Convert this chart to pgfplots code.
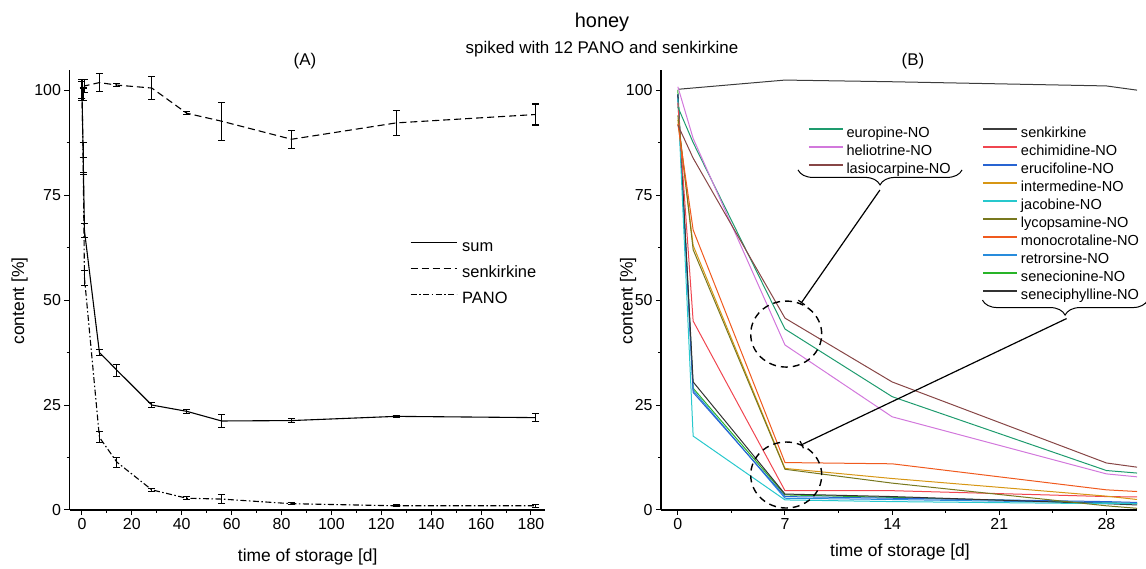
\documentclass[border=0pt]{standalone}
\usepackage{fontspec}
\setmainfont{Liberation Sans}
\usepackage{pgfplots}
\pgfplotsset{compat=1.18}
\usetikzlibrary{decorations.pathreplacing,arrows.meta}
\newcommand\fs[1]{\fontsize{#1}{#1}\selectfont}
\definecolor{cEur}{RGB}{30,155,110}
\definecolor{cHel}{RGB}{210,120,220}
\definecolor{cLas}{RGB}{135,70,70}
\definecolor{cSen}{RGB}{60,60,60}
\definecolor{cEch}{RGB}{240,70,80}
\definecolor{cEru}{RGB}{40,100,210}
\definecolor{cInt}{RGB}{215,150,20}
\definecolor{cJac}{RGB}{40,200,205}
\definecolor{cLyc}{RGB}{120,120,30}
\definecolor{cMon}{RGB}{240,90,30}
\definecolor{cRet}{RGB}{40,140,220}
\definecolor{cSec}{RGB}{40,180,40}
\definecolor{cSep}{RGB}{50,50,50}
\pgfplotsset{
  common/.style={
    scale only axis, ymin=0, ymax=104.8,
    axis x line*=bottom, axis y line*=left,
    axis line style={-, line width=1.2bp},
    tick align=outside, major tick length=5bp, minor tick length=3bp,
    every tick/.style={black, line width=1bp},
    ytick={0,25,50,75,100}, minor y tick num=1,
    ticklabel style={font=\fs{16}},
    /pgf/number format/assume math mode=true,
    label style={font=\fs{17.5}},
    legend cell align=left,
  },
  ebar/.style={error bars/.cd, y dir=both, y explicit,
    error bar style={line width=1.1bp, solid, black},
    error mark options={rotate=90, mark size=3.5bp, line width=1.1bp, solid, black}},
}
\begin{document}
\begin{tikzpicture}[x=1bp,y=1bp]
\path[use as bounding box] (0,0) rectangle (1146,569);
\node[font=\fs{20}, anchor=base] at (602,541) {honey};
\node[font=\fs{17}, anchor=base] at (602,515) {spiked with 12 PANO and senkirkine};
\node[font=\fs{17}, anchor=base] at (305,503) {(A)};
\node[font=\fs{17}, anchor=base] at (913,503) {(B)};
% ---------------- Panel A
\begin{axis}[common,
  at={(69.5bp,59bp)}, anchor=south west, width=475.4bp, height=440bp,
  xmin=-5, xmax=185.6, xtick={0,20,...,180}, minor x tick num=1,
  xlabel={time of storage [d]}, ylabel={content [\%]},
  xlabel style={at={(axis description cs:0.501,-0.107)}, anchor=center},
  ylabel style={at={(axis description cs:-0.105,0.475)}, anchor=center},
  legend style={at={(axis description cs:0.716,0.616)}, anchor=north west,
    draw=none, fill=none, font=\fs{16.5}, inner sep=0pt, row sep=10bp,
    nodes={inner sep=0pt, text height=12bp, text depth=4bp},
    /tikz/column 1/.style={column sep=5bp}},
  legend image code/.code={\draw[#1] (0bp,5bp) -- (46bp,5bp);},
]
\addplot[black, line width=1.1bp, forget plot, ebar] table[row sep=\\, y error=e] {
x y e\\
0 100 2\\ 0.5 84 3.6\\ 1 66.5 1.7\\ 7 37.5 0.8\\ 14 33.3 1.4\\ 28 25 0.6\\
42 23.5 0.5\\ 56 21.2 1.6\\ 84 21.3 0.4\\ 126 22.3 0.3\\ 182 22 1.0\\
};
\addplot[black, line width=1.1bp, dash pattern=on 7bp off 4bp, forget plot, ebar] table[row sep=\\, y error=e] {
x y e\\
0 100 2.5\\ 0.5 99 1.5\\ 1 101 1.5\\ 7 101.8 2.2\\ 14 101.2 0.3\\ 28 100.5 2.7\\
42 94.5 0.4\\ 56 92.6 4.5\\ 84 88.3 2.1\\ 126 92.2 3\\ 182 94.2 2.5\\
};
\addplot[black, line width=1.1bp, dash pattern=on 6bp off 2.5bp on 1.5bp off 2.5bp, forget plot, ebar] table[row sep=\\, y error=e] {
x y e\\
0 100 2\\ 0.5 82 2\\ 1 55.3 1.8\\ 7 17.3 1.3\\ 14 11.4 1.2\\ 28 4.8 0.3\\
42 2.8 0.4\\ 56 2.6 1.0\\ 84 1.5 0.2\\ 126 1.0 0.2\\ 182 1.0 0.3\\
};
\addlegendimage{black, line width=1.1bp}
\addlegendentry{sum}
\addlegendimage{black, line width=1.1bp, dash pattern=on 7bp off 4bp}
\addlegendentry{senkirkine}
\addlegendimage{black, line width=1.1bp, dash pattern=on 6bp off 2.5bp on 1.5bp off 2.5bp}
\addlegendentry{PANO}
\end{axis}
% ---------------- Panel B
\begin{axis}[common,
  at={(661bp,59bp)}, anchor=south west, width=476bp, height=440bp,
  xmin=-1.1, xmax=30, xtick={0,7,14,21,28}, minor x tick num=1,
  clip=false,
  xlabel={time of storage [d]}, ylabel={content [\%]},
  xlabel style={at={(axis description cs:0.502,-0.095)}, anchor=center},
  ylabel style={at={(axis description cs:-0.069,0.475)}, anchor=center},
  legend columns=2,
  legend style={at={(axis description cs:0.309,0.873)}, anchor=north west,
    draw=none, fill=none, font=\fs{14.6}, inner sep=0pt, row sep=4bp,
    nodes={inner sep=0pt, text height=11bp, text depth=3bp},
    /tikz/column 1/.style={column sep=3bp},
    /tikz/column 2/.style={column sep=32bp},
    /tikz/column 3/.style={column sep=3bp}},
  legend image code/.code={\draw[#1] (0bp,4bp) -- (34bp,4bp);},
]
\addplot[cSec, line width=1bp, forget plot] coordinates {(0,100) (1,29) (7,3.6) (14,3.0) (28,1.7) (30,1.6)};
\addplot[cRet, line width=1bp, forget plot] coordinates {(0,99) (1,28.5) (7,2.8) (14,2.5) (28,1.7) (30,1.5)};
\addplot[cEru, line width=1bp, forget plot] coordinates {(0,99) (1,28) (7,3.2) (14,2.8) (28,2.0) (30,1.8)};
\addplot[cSep, line width=1bp, forget plot] coordinates {(0,99) (1,30.5) (7,3.8) (14,3.2) (28,1.5) (30,1.2)};
\addplot[cJac, line width=1bp, forget plot] coordinates {(0,98) (1,17.6) (7,2.4) (14,2.0) (28,1.5) (30,1.5)};
\addplot[cEch, line width=1bp, forget plot] coordinates {(0,97) (1,45) (7,4.6) (14,4.6) (28,3.2) (30,3.1)};
\addplot[cInt, line width=1bp, forget plot] coordinates {(0,93) (1,63) (7,9.9) (14,7.5) (28,3.3) (30,2.5)};
\addplot[cLyc, line width=1bp, forget plot] coordinates {(0,94) (1,62) (7,9.7) (14,6.4) (28,1.0) (30,0.4)};
\addplot[cMon, line width=1bp, forget plot] coordinates {(0,92) (1,66.7) (7,11.3) (14,11.0) (28,4.8) (30,4.4)};
\addplot[cSen, line width=1bp, forget plot] coordinates {(0,100.2) (7,102.4) (14,102) (28,101) (30,100)};
\addplot[cEur, line width=1bp, forget plot] coordinates {(0,96) (1,87.5) (7,43.1) (14,27) (28,9.4) (30,8.8)};
\addplot[cHel, line width=1bp, forget plot] coordinates {(0,100.8) (1,88.5) (7,39.3) (14,22.2) (28,8.6) (30,7.9)};
\addplot[cLas, line width=1bp, forget plot] coordinates {(0,91.7) (1,83.8) (7,45.7) (14,30.5) (28,11.2) (30,10.2)};
% annotations
\draw[black, line width=1.4bp, dash pattern=on 7bp off 5bp] (axis cs:7.08,41.9) ellipse [x radius=35.5bp, y radius=33bp];
\draw[black, line width=1.4bp, dash pattern=on 7bp off 5bp] (axis cs:7.08,8.33) ellipse [x radius=35.5bp, y radius=33bp];
\draw[black, line width=1bp, decorate, decoration={brace, mirror, amplitude=15bp}] (axis cs:7.85,81.0) -- (axis cs:18.57,81.0);
\draw[black, line width=1bp, decorate, decoration={brace, mirror, amplitude=15bp}] (axis cs:19.9,50.0) -- (axis cs:30.7,50.0);
\draw[black, line width=1.2bp, -{Bar[width=8bp]}] (axis cs:13.2,76.2) -- (axis cs:8.06,49.3);
\draw[black, line width=1.2bp, -{Bar[width=8bp]}] (axis cs:25.4,45.6) -- (axis cs:8.06,15.5);
% legend (two columns)
\addlegendimage{cEur, line width=1.2bp}\addlegendentry{europine-NO}
\addlegendimage{cSen, line width=1.2bp}\addlegendentry{senkirkine}
\addlegendimage{cHel, line width=1.2bp}\addlegendentry{heliotrine-NO}
\addlegendimage{cEch, line width=1.2bp}\addlegendentry{echimidine-NO}
\addlegendimage{cLas, line width=1.2bp}\addlegendentry{lasiocarpine-NO}
\addlegendimage{cEru, line width=1.2bp}\addlegendentry{erucifoline-NO}
\addlegendimage{empty legend}\addlegendentry{}
\addlegendimage{cInt, line width=1.2bp}\addlegendentry{intermedine-NO}
\addlegendimage{empty legend}\addlegendentry{}
\addlegendimage{cJac, line width=1.2bp}\addlegendentry{jacobine-NO}
\addlegendimage{empty legend}\addlegendentry{}
\addlegendimage{cLyc, line width=1.2bp}\addlegendentry{lycopsamine-NO}
\addlegendimage{empty legend}\addlegendentry{}
\addlegendimage{cMon, line width=1.2bp}\addlegendentry{monocrotaline-NO}
\addlegendimage{empty legend}\addlegendentry{}
\addlegendimage{cRet, line width=1.2bp}\addlegendentry{retrorsine-NO}
\addlegendimage{empty legend}\addlegendentry{}
\addlegendimage{cSec, line width=1.2bp}\addlegendentry{senecionine-NO}
\addlegendimage{empty legend}\addlegendentry{}
\addlegendimage{cSep, line width=1.2bp}\addlegendentry{seneciphylline-NO}
\end{axis}
\end{tikzpicture}
\end{document}
